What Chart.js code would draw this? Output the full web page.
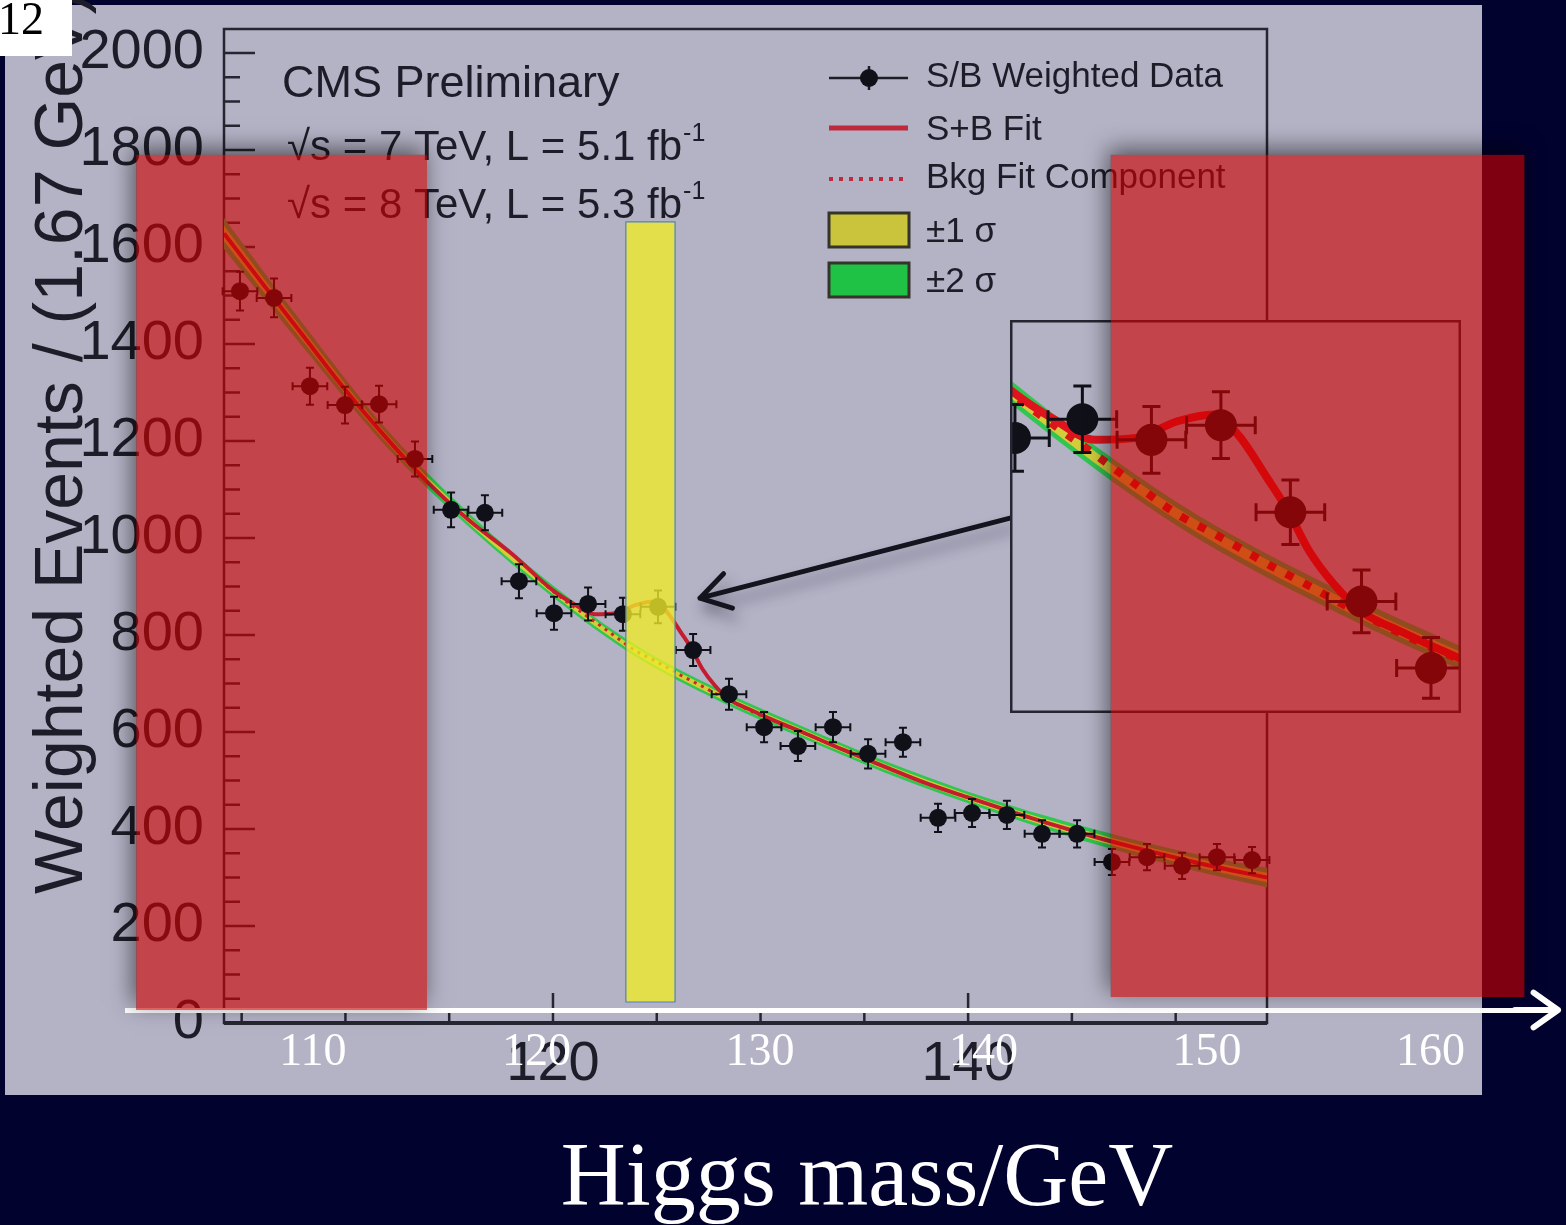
<!DOCTYPE html>
<html lang="en">
<head>
<meta charset="UTF-8">
<title>Higgs mass / GeV</title>
<script src="https://cdn.jsdelivr.net/npm/chart.js@4"></script>
<style>
  html, body { margin: 0; padding: 0; background: #02022f; overflow: hidden; }
  #stage { position: relative; width: 1566px; height: 1225px; }
  #stage canvas { position: absolute; }
  #main { left: 0; top: 0; }
  #inset { left: 1010px; top: 320px; }
  #slide { left: 0; top: 0; pointer-events: none; }
</style>
</head>
<body>
<div id="stage">
  <canvas id="main" width="1566" height="1225"></canvas>
  <canvas id="inset" width="451" height="393"></canvas>
  <canvas id="slide" width="1566" height="1225"></canvas>
</div>
<script>
// S/B weighted data, one entry per 1.67 GeV bin
const massBins = [104.92, 106.56, 108.29, 109.98, 111.62, 113.35, 115.09, 116.72, 118.36, 120.05,
                  121.69, 123.37, 125.06, 126.75, 128.48, 130.17, 131.80, 133.49, 135.18, 136.86,
                  138.55, 140.19, 141.87, 143.56, 145.25, 146.93, 148.62, 150.31, 151.99, 153.68];
const weightedEvents = [1509, 1495, 1313, 1274, 1276, 1163, 1058, 1052, 911, 845,
                        864, 843, 858, 769, 678, 610, 571, 610, 555, 579,
                        423, 433, 429, 390, 390, 332, 342, 324, 342, 336];
const eventErrors = [40, 40, 38, 38, 38, 36, 36, 36, 35, 34,
                     34, 34, 34, 33, 32, 31, 31, 31, 30, 30,
                     29, 29, 29, 28, 28, 27, 27, 27, 27, 27];
const binHalfWidth = 0.835;

// fitted curves
const fitMass = [104.15, 106, 108, 110, 112, 114, 116, 118, 120, 121, 122, 123, 124, 124.9, 125.5,
                 126.2, 126.7, 127.2, 127.8, 128.5, 129.4, 130.8, 132, 134, 136, 138, 140, 142, 144,
                 146, 148, 150, 152, 154.4];
const sbFit = [1628, 1525, 1415, 1305, 1205, 1113, 1035, 968, 892, 864, 843, 845, 862, 869, 847,
               803, 770, 730, 696, 667, 648, 621, 600, 563, 528, 494, 465, 437, 410,
               385, 362, 341, 321, 300];
const bkgFit = [1628, 1525, 1415, 1305, 1205, 1113, 1035, 968, 890, 858, 828, 797, 767, 747, 733,
                716, 705, 694, 680, 665, 646, 620, 600, 563, 528, 494, 465, 437, 410,
                385, 362, 341, 321, 300];

// uncertainty bands of the background fit
const bandMass = [104.15, 108, 112, 116, 120, 124, 128, 132, 136, 140, 144, 148, 152, 154.4];
const bandCentre = [1628, 1415, 1205, 1035, 890, 767, 676, 600, 528, 465, 410, 362, 321, 300];
const sigma1 = [16, 12, 9, 7, 6, 6, 6, 6, 6, 6, 7, 8, 9, 10];
const sigma2 = [32, 24, 18, 14, 12, 12, 12, 12, 12, 12, 14, 16, 18, 20];

// axis labels
const massLabels = [120, 140];
const slideTicks = [110, 120, 130, 140, 150, 160];
const slideTickLabels = ['110', '120', '130', '140', '150', '160'];
const legendLabels = ['S/B Weighted Data', 'S+B Fit', 'Bkg Fit Component', '\u00b11 \u03c3', '\u00b12 \u03c3'];

// highlighted windows on the slide mass axis (GeV) and their height (events)
const excludedWindows = [[102.1, 115.1], [145.7, 164.2]];
const excludedHeights = [[26.8, 1790], [53.6, 1790]];
const signalWindow = [124.0, 126.2];
const signalHeight = [43.3, 1652];

// pointer from the zoomed inset to the excess: [mass, events]
const pointerFrom = [142.02, 1041];
const pointerTo = [127.08, 876];

const SANS = "'Liberation Sans', Arial, Helvetica, sans-serif";
const SERIF = "'Liberation Serif', 'Times New Roman', serif";
const INK = '#1d1d29';
const PAPER = '#b4b3c6';

Chart.defaults.animation = false;
Chart.defaults.font.family = SANS;

const pts = (xs, ys) => xs.map((x, i) => ({ x, y: ys[i] }));

function fitDatasets(st) {
  return [
    { label: legendLabels[0], data: pts(massBins, weightedEvents), showLine: false,
      pointRadius: st.pointR, pointBackgroundColor: '#101018', pointBorderWidth: 0,
      errY: eventErrors, errW: st.errW, cap: st.cap, order: 0 },
    { label: legendLabels[1], data: pts(fitMass, sbFit), borderColor: st.sbColor, borderWidth: st.sbW,
      pointRadius: 0, cubicInterpolationMode: 'monotone', order: 1 },
    { label: legendLabels[2], data: pts(fitMass, bkgFit), borderColor: st.bkgColor, borderWidth: st.bkgW,
      borderDash: st.bkgDash, pointRadius: 0, cubicInterpolationMode: 'monotone', order: 2 },
    { label: '1s hi', data: pts(bandMass, bandCentre.map((c, i) => c + sigma1[i])), fill: '+1',
      backgroundColor: '#d3cd3c', borderWidth: 0, pointRadius: 0, cubicInterpolationMode: 'monotone', order: 3 },
    { label: '1s lo', data: pts(bandMass, bandCentre.map((c, i) => c - sigma1[i])),
      borderWidth: 0, pointRadius: 0, cubicInterpolationMode: 'monotone', order: 3 },
    { label: '2s hi', data: pts(bandMass, bandCentre.map((c, i) => c + sigma2[i])), fill: '+1',
      backgroundColor: '#31c552', borderWidth: 0, pointRadius: 0, cubicInterpolationMode: 'monotone', order: 4 },
    { label: '2s lo', data: pts(bandMass, bandCentre.map((c, i) => c - sigma2[i])),
      borderWidth: 0, pointRadius: 0, cubicInterpolationMode: 'monotone', order: 4 }
  ];
}

// error bars drawn through the chart's own scales
const errorBars = {
  id: 'errorBars',
  beforeDatasetDraw(chart, args) {
    const ds = chart.data.datasets[args.index];
    if (!ds.errY) return;
    const xs = chart.scales.x, ys = chart.scales.y, ctx = chart.ctx, c = ds.cap;
    ctx.save();
    ctx.strokeStyle = ds.pointBackgroundColor;
    ctx.lineWidth = ds.errW;
    ds.data.forEach((p, i) => {
      const cx = xs.getPixelForValue(p.x), cy = ys.getPixelForValue(p.y);
      const xl = xs.getPixelForValue(p.x - binHalfWidth), xr = xs.getPixelForValue(p.x + binHalfWidth);
      const yt = ys.getPixelForValue(p.y + ds.errY[i]), yb = ys.getPixelForValue(p.y - ds.errY[i]);
      ctx.beginPath();
      ctx.moveTo(xl, cy); ctx.lineTo(xr, cy);
      ctx.moveTo(cx, yt); ctx.lineTo(cx, yb);
      ctx.moveTo(xl, cy - c); ctx.lineTo(xl, cy + c);
      ctx.moveTo(xr, cy - c); ctx.lineTo(xr, cy + c);
      ctx.moveTo(cx - c, yt); ctx.lineTo(cx + c, yt);
      ctx.moveTo(cx - c, yb); ctx.lineTo(cx + c, yb);
      ctx.stroke();
    });
    ctx.restore();
  }
};

function drawArrow(ctx, x0, y0, x1, y1, head, spread) {
  const a = Math.atan2(y1 - y0, x1 - x0);
  ctx.beginPath();
  ctx.moveTo(x0, y0); ctx.lineTo(x1, y1);
  ctx.moveTo(x1 - head * Math.cos(a - spread), y1 - head * Math.sin(a - spread));
  ctx.lineTo(x1, y1);
  ctx.lineTo(x1 - head * Math.cos(a + spread), y1 - head * Math.sin(a + spread));
  ctx.stroke();
}

// ---------- main CMS plot ----------
const cmsDecor = {
  id: 'cmsDecor',
  beforeDraw(chart) {
    const ctx = chart.ctx;
    ctx.save();
    ctx.fillStyle = '#02022f';
    ctx.fillRect(0, 0, chart.width, chart.height);
    ctx.fillStyle = PAPER;
    ctx.fillRect(5, 5, 1477, 1090);
    ctx.restore();
  },
  beforeDatasetsDraw(chart) {
    const ctx = chart.ctx, a = chart.chartArea, xs = chart.scales.x, ys = chart.scales.y;
    ctx.save();
    ctx.strokeStyle = '#262633';
    ctx.lineWidth = 2.5;
    ctx.strokeRect(a.left, a.top, a.right - a.left, a.bottom - a.top);
    ctx.lineWidth = 4;
    ctx.beginPath(); ctx.moveTo(a.left, a.bottom); ctx.lineTo(a.right, a.bottom); ctx.stroke();
    ctx.lineWidth = 2.5;
    ctx.beginPath();
    xs.ticks.forEach(t => {
      const px = xs.getPixelForValue(t.value);
      const len = massLabels.includes(t.value) ? 30 : 13;
      ctx.moveTo(px, a.bottom); ctx.lineTo(px, a.bottom - len);
    });
    ys.ticks.forEach(t => {
      const py = ys.getPixelForValue(t.value);
      const len = t.value % 200 === 0 ? 31 : 16;
      ctx.moveTo(a.left, py); ctx.lineTo(a.left + len, py);
    });
    ctx.stroke();
    ctx.restore();
  },
  afterDatasetsDraw(chart) {
    const ctx = chart.ctx, xs = chart.scales.x, ys = chart.scales.y;
    ctx.save();
    ctx.fillStyle = INK;
    ctx.textAlign = 'left';
    ctx.textBaseline = 'alphabetic';

    // y title
    ctx.save();
    ctx.translate(82, 894);
    ctx.rotate(-Math.PI / 2);
    ctx.font = `68px ${SANS}`;
    ctx.fillText('Weighted Events / (1.67 GeV)', 0, 0);
    ctx.restore();

    // CMS labels
    ctx.font = `45px ${SANS}`;
    ctx.fillText('CMS Preliminary', 282, 97);
    [['\u221as = 7 TeV, L = 5.1 fb', 160], ['\u221as = 8 TeV, L = 5.3 fb', 218]].forEach(([s, y]) => {
      ctx.font = `42px ${SANS}`;
      ctx.fillText(s, 287, y);
      const w = ctx.measureText(s).width;
      ctx.font = `25px ${SANS}`;
      ctx.fillText('-1', 287 + w + 1, y - 19);
    });

    // legend
    const lx0 = 829, lx1 = 908, tx = 926;
    ctx.strokeStyle = INK; ctx.lineWidth = 2.5;
    ctx.beginPath(); ctx.moveTo(lx0, 78); ctx.lineTo(lx1, 78);
    ctx.moveTo(869, 66); ctx.lineTo(869, 90); ctx.stroke();
    ctx.fillStyle = '#101018';
    ctx.beginPath(); ctx.arc(869, 78, 9, 0, Math.PI * 2); ctx.fill();
    ctx.strokeStyle = '#c0283c'; ctx.lineWidth = 5;
    ctx.beginPath(); ctx.moveTo(lx0, 128); ctx.lineTo(lx1, 128); ctx.stroke();
    ctx.lineWidth = 4; ctx.setLineDash([4, 6]);
    ctx.beginPath(); ctx.moveTo(lx0, 179); ctx.lineTo(lx1, 179); ctx.stroke();
    ctx.setLineDash([]);
    ctx.lineWidth = 3; ctx.strokeStyle = '#34342a';
    ctx.fillStyle = '#c9c43c'; ctx.fillRect(829, 213, 80, 34); ctx.strokeRect(829, 213, 80, 34);
    ctx.fillStyle = '#1fc245'; ctx.fillRect(829, 263, 80, 34); ctx.strokeRect(829, 263, 80, 34);
    ctx.fillStyle = INK;
    ctx.font = `35px ${SANS}`;
    [87, 140, 188, 242, 292].forEach((y, i) => ctx.fillText(legendLabels[i], tx, y));

    // pointer from inset to the excess
    ctx.save();
    ctx.strokeStyle = '#14141e'; ctx.lineWidth = 5; ctx.lineCap = 'round'; ctx.lineJoin = 'round';
    ctx.shadowColor = 'rgba(30,30,50,0.45)'; ctx.shadowBlur = 14; ctx.shadowOffsetX = 4; ctx.shadowOffsetY = 10;
    drawArrow(ctx, xs.getPixelForValue(pointerFrom[0]), ys.getPixelForValue(pointerFrom[1]),
              xs.getPixelForValue(pointerTo[0]), ys.getPixelForValue(pointerTo[1]), 34, 0.55);
    ctx.restore();
    ctx.restore();
  }
};

new Chart(document.getElementById('main'), {
  type: 'line',
  data: { datasets: fitDatasets({ pointR: 9, errW: 2, cap: 4, sbColor: '#c41e2e', sbW: 4,
                                  bkgColor: '#c8282a', bkgW: 3, bkgDash: [3, 5] }) },
  options: {
    responsive: false,
    devicePixelRatio: 1,
    events: [],
    layout: { autoPadding: false, padding: { left: 0, right: 299, top: 29, bottom: 0 } },
    plugins: { legend: { display: false }, tooltip: { enabled: false } },
    scales: {
      x: {
        type: 'linear', min: 104.15, max: 154.4,
        grid: { display: false }, border: { display: false },
        afterBuildTicks: s => { s.ticks = []; for (let v = 105; v <= 150; v += 5) s.ticks.push({ value: v }); },
        afterFit: s => { s.height = 202; s.paddingLeft = 0; s.paddingRight = 0; },
        ticks: { autoSkip: false, maxRotation: 0, padding: 0, color: INK, font: { size: 56 },
                 callback: v => (massLabels.includes(v) ? String(v) : '') }
      },
      y: {
        type: 'linear', min: 0, max: 2049.5,
        grid: { display: false }, border: { display: false },
        afterBuildTicks: s => { s.ticks = []; for (let v = 0; v <= 2000; v += 50) s.ticks.push({ value: v }); },
        afterFit: s => { s.width = 224; s.paddingTop = 0; s.paddingBottom = 0; },
        ticks: { autoSkip: false, padding: 12, color: INK, font: { size: 56 },
                 callback: v => (v % 200 === 0 ? String(v) : '') }
      }
    }
  },
  plugins: [cmsDecor, errorBars]
});

// ---------- zoomed inset ----------
const insetDecor = {
  id: 'insetDecor',
  beforeDraw(chart) {
    chart.ctx.save();
    chart.ctx.fillStyle = PAPER;
    chart.ctx.fillRect(0, 0, chart.width, chart.height);
    chart.ctx.restore();
  },
  afterDraw(chart) {
    const ctx = chart.ctx;
    ctx.save();
    ctx.strokeStyle = '#262633'; ctx.lineWidth = 2.5;
    ctx.strokeRect(1.25, 1.25, chart.width - 2.5, chart.height - 2.5);
    ctx.restore();
  }
};

new Chart(document.getElementById('inset'), {
  type: 'line',
  data: { datasets: fitDatasets({ pointR: 16, errW: 3, cap: 9, sbColor: '#e0141f', sbW: 8,
                                  bkgColor: '#d81818', bkgW: 8, bkgDash: [8, 12] }) },
  options: {
    responsive: false,
    devicePixelRatio: 1,
    events: [],
    layout: { autoPadding: false, padding: 0 },
    plugins: { legend: { display: false }, tooltip: { enabled: false } },
    scales: {
      x: { type: 'linear', min: 119.93, max: 130.9, display: false },
      y: { type: 'linear', min: 564, max: 965.4, display: false }
    }
  },
  plugins: [insetDecor, errorBars]
});

// ---------- slide overlay: mass axis, shaded windows, titles ----------
function shadedRect(ctx, W, H, x0, y0, x1, y1, fill) {
  ctx.save();
  ctx.beginPath();
  ctx.rect(0, 0, W, H);
  ctx.rect(x0, y0, x1 - x0, y1 - y0);
  ctx.clip('evenodd');
  ctx.shadowColor = 'rgba(0,0,0,0.55)'; ctx.shadowBlur = 22; ctx.shadowOffsetX = -3; ctx.shadowOffsetY = -6;
  ctx.fillStyle = '#000';
  ctx.fillRect(x0, y0, x1 - x0, y1 - y0);
  ctx.restore();
  ctx.fillStyle = fill;
  ctx.fillRect(x0, y0, x1 - x0, y1 - y0);
}

const slideDecor = {
  id: 'slideDecor',
  afterDraw(chart) {
    const ctx = chart.ctx, xs = chart.scales.x, ys = chart.scales.y, a = chart.chartArea;
    ctx.save();
    // arrow head of the mass axis
    ctx.strokeStyle = '#ffffff'; ctx.lineWidth = 6; ctx.lineCap = 'round'; ctx.lineJoin = 'round';
    drawArrow(ctx, a.right - 40, a.bottom, a.right + 3, a.bottom, 30, 0.62);

    excludedWindows.forEach((w, i) => {
      shadedRect(ctx, chart.width, chart.height,
        xs.getPixelForValue(w[0]), ys.getPixelForValue(excludedHeights[i][1]),
        xs.getPixelForValue(w[1]), ys.getPixelForValue(excludedHeights[i][0]), 'rgba(205,0,0,0.62)');
    });

    const sx0 = xs.getPixelForValue(signalWindow[0]), sx1 = xs.getPixelForValue(signalWindow[1]);
    const sy0 = ys.getPixelForValue(signalHeight[1]), sy1 = ys.getPixelForValue(signalHeight[0]);
    ctx.fillStyle = 'rgba(240,236,40,0.78)';
    ctx.fillRect(sx0, sy0, sx1 - sx0, sy1 - sy0);
    ctx.strokeStyle = '#4f81bd'; ctx.lineWidth = 1.2;
    ctx.strokeRect(sx0, sy0, sx1 - sx0, sy1 - sy0);

    ctx.fillStyle = '#ffffff';
    ctx.font = `90px ${SERIF}`;
    ctx.textAlign = 'center'; ctx.textBaseline = 'alphabetic';
    ctx.fillText('Higgs mass/GeV', 867, 1205);

    ctx.fillRect(0, 0, 72, 56);
    ctx.fillStyle = '#000000';
    ctx.font = `46px ${SERIF}`;
    ctx.textAlign = 'left';
    ctx.fillText('12', -2, 34);
    ctx.restore();
  }
};

new Chart(document.getElementById('slide'), {
  type: 'scatter',
  data: { datasets: [] },
  options: {
    responsive: false,
    devicePixelRatio: 1,
    events: [],
    layout: { autoPadding: false, padding: { left: 127, right: 11, top: 0, bottom: 0 } },
    plugins: { legend: { display: false }, tooltip: { enabled: false } },
    scales: {
      x: {
        type: 'linear', min: 101.68, max: 165.57, position: 'bottom',
        grid: { display: false },
        border: { display: true, color: '#ffffff', width: 5 },
        afterBuildTicks: s => { s.ticks = slideTicks.map(v => ({ value: v })); },
        afterFit: s => { s.height = 215; s.paddingLeft = 0; s.paddingRight = 0; },
        ticks: { autoSkip: false, maxRotation: 0, padding: 7, color: '#ffffff',
                 font: { family: SERIF, size: 46 }, callback: (v, i) => slideTickLabels[i] }
      },
      y: { type: 'linear', min: 26.8, max: 2109.3, display: false }
    }
  },
  plugins: [slideDecor]
});
</script>
</body>
</html>
